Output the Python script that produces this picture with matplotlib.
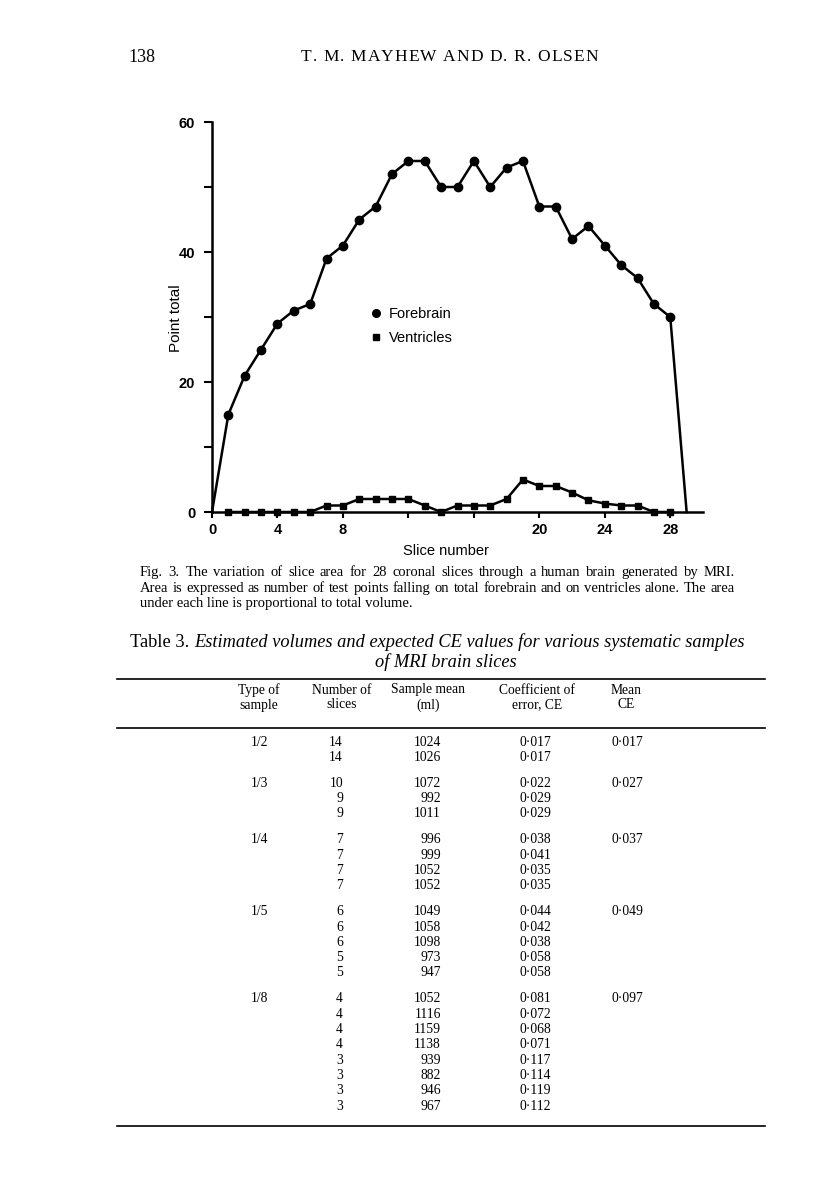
import matplotlib
matplotlib.use("Agg")
import matplotlib.pyplot as plt
from matplotlib.lines import Line2D

# ---------------- data ----------------
slice_no = list(range(0, 30))
forebrain = [0, 15, 21, 25, 29, 31, 32, 39, 41, 45, 47, 52, 54, 54, 50,
             50, 54, 50, 53, 54, 47, 47, 42, 44, 41, 38, 36, 32, 30, 0]
vent_x = list(range(1, 29))
ventricles = [0, 0, 0, 0, 0, 0, 1, 1, 2, 2, 2, 2, 1, 0,
              1, 1, 1, 2, 5, 4, 4, 3, 1.8, 1.3, 1, 1, 0, 0]

xticks = [0, 4, 8, 12, 16, 20, 24, 28]
xticklabels = ["0", "4", "8", "", "", "20", "24", "28"]
yticks = [0, 10, 20, 30, 40, 50, 60]
yticklabels = ["0", "", "20", "", "40", "", "60"]

header_cols = [("Type of", "sample"), ("Number of", "slices"), ("Sample mean", "(ml)"),
               ("Coefficient of", "error, CE"), ("Mean", "CE")]
sample_type = ["1/2", "1/3", "1/4", "1/5", "1/8"]
n_slices = [[14, 14], [10, 9, 9], [7, 7, 7, 7], [6, 6, 6, 5, 5], [4, 4, 4, 4, 3, 3, 3, 3]]
sample_mean = [[1024, 1026], [1072, 992, 1011], [996, 999, 1052, 1052],
               [1049, 1058, 1098, 973, 947],
               [1052, 1116, 1159, 1138, 939, 882, 946, 967]]
ce_values = [["0·017", "0·017"], ["0·022", "0·029", "0·029"],
             ["0·038", "0·041", "0·035", "0·035"],
             ["0·044", "0·042", "0·038", "0·058", "0·058"],
             ["0·081", "0·072", "0·068", "0·071", "0·117", "0·114", "0·119", "0·112"]]
mean_ce = ["0·017", "0·027", "0·037", "0·049", "0·097"]

# ---------------- figure ----------------
W, H = 816, 1191
fig = plt.figure(figsize=(W / 100, H / 100), dpi=100)
fig.patch.set_facecolor("white")


def fx(px):
    return px / W


def fy(py):
    return 1 - py / H


SANS = "Liberation Sans"
SERIF = "Liberation Serif"

ax = fig.add_axes([fx(212), fy(512), fx(703) - fx(212), fy(122) - fy(512)])
ax.set_xlim(0, 30)
ax.set_ylim(0, 60)
for s in ["top", "right"]:
    ax.spines[s].set_visible(False)
for s in ["left", "bottom"]:
    ax.spines[s].set_linewidth(1.8)

ax.plot(slice_no, forebrain, color="black", lw=1.8, zorder=3, clip_on=False)
ax.plot(slice_no[1:-1], forebrain[1:-1], linestyle="none", marker="o", ms=6,
        color="black", zorder=4, clip_on=False)
ax.plot(vent_x, ventricles, color="black", lw=1.8, marker="s", ms=5,
        zorder=4, clip_on=False)

ax.set_xticks(xticks)
ax.set_xticklabels(xticklabels)
ax.set_yticks(yticks)
ax.set_yticklabels(yticklabels)
ax.tick_params(axis="both", direction="out", width=1.5, labelsize=10.5, color="black")
ax.tick_params(axis="y", length=6, pad=6)
ax.tick_params(axis="x", length=4, pad=4)
for lab in ax.get_xticklabels() + ax.get_yticklabels():
    lab.set_fontfamily(SANS)
    lab.set_fontweight("bold")

fig.text(fx(446), fy(551), "Slice number", ha="center", va="center",
         fontsize=10.5, family=SANS)
fig.text(fx(176), fy(318), "Point total", ha="center", va="center",
         rotation=90, fontsize=11, family=SANS)

handles = [Line2D([], [], color="black", marker="o", linestyle="none", ms=5.5),
           Line2D([], [], color="black", marker="s", linestyle="none", ms=4.5)]
leg = ax.legend(handles, ["Forebrain", "Ventricles"], loc="upper left",
                bbox_to_anchor=(fx(371), fy(307)), bbox_transform=fig.transFigure,
                frameon=False, handlelength=0.7, handletextpad=0.55,
                labelspacing=0.7, borderpad=0, borderaxespad=0, numpoints=1,
                prop={"family": SANS, "size": 10.5})

renderer = fig.canvas.get_renderer()

# ---------------- page header ----------------
fig.text(fx(128), fy(57), "138", ha="left", va="center", fontsize=13, family=SERIF)


def spaced(text, x0, x1, py, **kw):
    chars = list(text)
    texts = [fig.text(0, fy(py), c, ha="left", va="center", **kw) for c in chars]
    widths = [t.get_window_extent(renderer).width if c != " " else 0
              for t, c in zip(texts, chars)]
    a = fig.text(0, 0, "n n", **kw)
    b = fig.text(0, 0, "n", **kw)
    sw = a.get_window_extent(renderer).width - 2 * b.get_window_extent(renderer).width
    a.remove()
    b.remove()
    widths = [w if c != " " else sw for w, c in zip(widths, chars)]
    extra = (x1 - x0 - sum(widths)) / (len(chars) - 1)
    x = x0
    for t, w in zip(texts, widths):
        t.set_x(fx(x))
        x += w + extra


spaced("T. M. MAYHEW AND D. R. OLSEN", 301, 598, 57, fontsize=12.5, family=SERIF)

# ---------------- caption (justified) ----------------


def justify(line, x0, x1, py, **kw):
    words = line.split(" ")
    texts = [fig.text(0, fy(py), w, ha="left", va="baseline", **kw) for w in words]
    widths = [t.get_window_extent(renderer).width for t in texts]
    gap = (x1 - x0 - sum(widths)) / (len(words) - 1)
    x = x0
    for t, w in zip(texts, widths):
        t.set_x(fx(x))
        x += w + gap


cap_kw = dict(fontsize=10.5, family=SERIF)
justify("Fig. 3. The variation of slice area for 28 coronal slices through a human brain generated by MRI.",
        140, 735, 576, **cap_kw)
justify("Area is expressed as number of test points falling on total forebrain and on ventricles alone. The area",
        140, 735, 592, **cap_kw)
fig.text(fx(140), fy(607), "under each line is proportional to total volume.", ha="left",
         va="baseline", **cap_kw)

# ---------------- table title ----------------
t1 = fig.text(fx(130), fy(647), "Table 3. ", ha="left", va="baseline",
              fontsize=13.2, family=SERIF)
ax.annotate("Estimated volumes and expected CE values for various systematic samples",
            xy=(1, 0), xycoords=t1, ha="left", va="bottom", fontsize=13.2,
            family=SERIF, style="italic", annotation_clip=False)
fig.text(fx(446), fy(667), "of MRI brain slices", ha="center", va="baseline",
         fontsize=13.2, family=SERIF, style="italic")

# ---------------- table ----------------


def hrule(py, lw):
    fig.add_artist(Line2D([fx(117), fx(765)], [fy(py), fy(py)], color="black", lw=lw))


hrule(679, 1.2)
hrule(728, 1.2)
hrule(1126, 1.2)

tab_kw = dict(fontsize=9.8, family=SERIF, va="center")
col_centres = [259, 342, 428, 537, 626]
for cx, (l1, l2) in zip(col_centres, header_cols):
    fig.text(fx(cx), fy(690), l1, ha="center", **tab_kw)
    fig.text(fx(cx), fy(705), l2, ha="center", **tab_kw)

row_step = 15.3
group_gap = 26
y = 742
for g in range(len(sample_type)):
    fig.text(fx(260), fy(y), sample_type[g], ha="center", **tab_kw)
    fig.text(fx(627), fy(y), mean_ce[g], ha="center", **tab_kw)
    for i in range(len(n_slices[g])):
        yy = y + i * row_step
        fig.text(fx(343), fy(yy), str(n_slices[g][i]), ha="right", **tab_kw)
        fig.text(fx(441), fy(yy), str(sample_mean[g][i]), ha="right", **tab_kw)
        fig.text(fx(551), fy(yy), ce_values[g][i], ha="right", **tab_kw)
    y = y + (len(n_slices[g]) - 1) * row_step + group_gap

fig.savefig("out.png", dpi=100, facecolor="white")
